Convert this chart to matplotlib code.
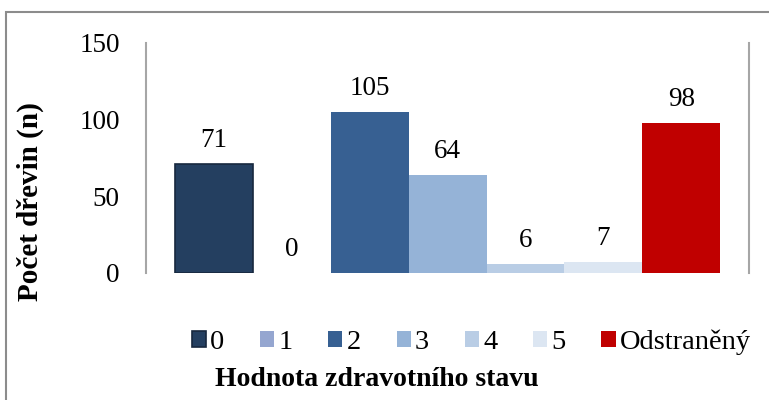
import matplotlib.pyplot as plt
from matplotlib.patches import Rectangle

plt.rcParams['font.family'] = ['Liberation Serif', 'DejaVu Serif']

# data
categories = ['0', '1', '2', '3', '4', '5', 'Odstraněný']
counts = [71, 0, 105, 64, 6, 7, 98]
colors = ['#243F60', '#95A6D0', '#376092', '#95B3D7', '#B9CDE5', '#DCE6F2', '#C00000']
edges = ['#17283E', None, None, None, None, None, None]
y_ticks = [0, 50, 100, 150]

fig = plt.figure(figsize=(7.69, 4.0), dpi=100)
ax = fig.add_axes([0.190, 0.3175, 0.784, 0.575])

handles = []
for i, (cat, val, col, ed) in enumerate(zip(categories, counts, colors, edges)):
    if ed is not None:
        b = ax.bar(i, val, width=1.0, color=col, edgecolor=ed, linewidth=1.2, label=cat)
    else:
        b = ax.bar(i, val, width=1.0, color=col, linewidth=0, label=cat)
    handles.append(b)
    ax.annotate(str(val), (i, val), xytext=(0, 17), textcoords='offset points',
                ha='center', va='center', fontsize=19.5)

ax.set_xlim(-0.87, 6.87)
ax.set_ylim(0, 150)
ax.set_yticks(y_ticks)
ax.tick_params(axis='y', length=0, pad=19, labelsize=19.5)
ax.set_xticks([])
for s in ['top', 'bottom']:
    ax.spines[s].set_visible(False)
for s in ['left', 'right']:
    ax.spines[s].set_color('#A6A6A6')
    ax.spines[s].set_linewidth(1.5)

fig.text(0.039, 0.495, 'Počet dřevin (n)', rotation=90, ha='center', va='center',
         fontsize=21, fontweight='bold')
fig.text(0.490, 0.05, 'Hodnota zdravotního stavu', ha='center', va='center',
         fontsize=20, fontweight='bold')

leg = fig.legend(handles=handles, labels=categories, ncol=7, loc='center',
                 bbox_to_anchor=(0.613, 0.145), frameon=False, fontsize=20.5,
                 handlelength=0.5, handleheight=0.5, handletextpad=0.15,
                 columnspacing=1.25, borderaxespad=0)

# chart frame
fig.patches.append(Rectangle((6 / 769, -0.1), 1.2, 0.1 + 1 - 12 / 400,
                             transform=fig.transFigure, fill=False,
                             edgecolor='#8C8C8C', linewidth=1.5))

fig.savefig('out.png', dpi=100)
